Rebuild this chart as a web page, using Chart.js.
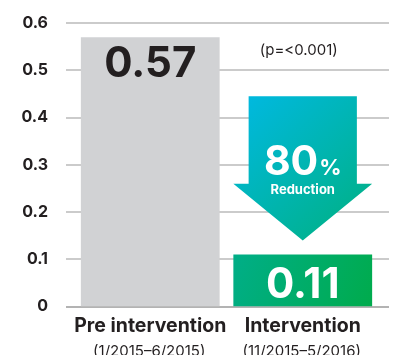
<!DOCTYPE html>
<html>
<head>
<meta charset="utf-8">
<script src="https://cdn.jsdelivr.net/npm/chart.js@4/dist/chart.umd.min.js"></script>
<style>
  html, body { margin: 0; padding: 0; background: #fff; }
  #wrap { width: 393px; height: 355px; }
</style>
</head>
<body>
<div id="wrap"><canvas id="chart" width="393" height="355"></canvas></div>
<script>
// Datos del gráfico
const categories = ['Pre intervention', 'Intervention'];
const periods = ['(1/2015\u20136/2015)', '(11/2015\u20135/2016)'];
const values = [0.57, 0.11];
const valueLabels = ['0.57', '0.11'];
const yTicks = [0, 0.1, 0.2, 0.3, 0.4, 0.5, 0.6];
const pValueText = '(p=<0.001)';
const reductionPct = '80';
const reductionText = 'Reduction';
// Flecha (en unidades del eje y)
const arrowTop = 0.445;
const arrowNeck = 0.26;
const arrowTip = 0.14;

const FONT = 'Inter, "DejaVu Sans", sans-serif';
const INK = '#231f20';

// Colores de barras
function barColor(ctx) {
    const chart = ctx.chart;
    if (ctx.dataIndex === 0) return '#d1d2d4';
    const { chartArea, scales } = chart;
    if (!chartArea) return '#00ae6e';
    const cx = scales.x.getPixelForValue(1);
    const top = scales.y.getPixelForValue(values[1]);
    const bottom = scales.y.getPixelForValue(0);
    const g = chart.ctx.createLinearGradient(cx - 70, top, cx + 70, bottom);
    g.addColorStop(0, '#00ae88');
    g.addColorStop(1, '#00ab4c');
    return g;
}

// Líneas de cuadrícula extendidas
const gridPlugin = {
    id: 'gridLines',
    beforeDatasetsDraw(chart) {
        const { ctx, chartArea, scales } = chart;
        ctx.save();
        yTicks.forEach(v => {
            const y = Math.round(scales.y.getPixelForValue(v));
            ctx.strokeStyle = v === 0 ? '#b3b3b3' : '#cbcbcb';
            ctx.lineWidth = 2;
            ctx.beginPath();
            ctx.moveTo(chartArea.left - 8, y);
            ctx.lineTo(chartArea.right + 10, y);
            ctx.stroke();
        });
        ctx.restore();
    }
};

// Anotaciones: valores, flecha, p-valor, periodos
const annotPlugin = {
    id: 'annotations',
    afterDatasetsDraw(chart) {
        const { ctx, scales } = chart;
        const meta = chart.getDatasetMeta(0);
        const b1 = meta.data[0];
        const b2 = meta.data[1];
        ctx.save();
        ctx.textAlign = 'center';
        ctx.textBaseline = 'alphabetic';

        // Valor barra 1
        ctx.fillStyle = INK;
        ctx.font = 'bold 42px ' + FONT;
        ctx.fillText(valueLabels[0], b1.x, b1.y + 40);

        // Valor barra 2
        ctx.fillStyle = '#fff';
        ctx.fillText(valueLabels[1], b2.x, b2.y + 43);

        // p-valor
        ctx.fillStyle = INK;
        ctx.font = '15px ' + FONT;
        ctx.fillText(pValueText, b2.x - 4, scales.y.getPixelForValue(0.533));

        // Flecha
        const cx = b2.x;
        const headHalf = b2.width / 2;
        const shaftHalf = b2.width * 0.39;
        const yTop = scales.y.getPixelForValue(arrowTop);
        const yNeck = scales.y.getPixelForValue(arrowNeck);
        const yTip = scales.y.getPixelForValue(arrowTip);
        const g = ctx.createLinearGradient(cx - headHalf, yTop, cx + headHalf, yTip);
        g.addColorStop(0, '#00b9e4');
        g.addColorStop(1, '#00b07e');
        ctx.fillStyle = g;
        ctx.beginPath();
        ctx.moveTo(cx - shaftHalf, yTop);
        ctx.lineTo(cx + shaftHalf, yTop);
        ctx.lineTo(cx + shaftHalf, yNeck);
        ctx.lineTo(cx + headHalf, yNeck);
        ctx.lineTo(cx, yTip);
        ctx.lineTo(cx - headHalf, yNeck);
        ctx.lineTo(cx - shaftHalf, yNeck);
        ctx.closePath();
        ctx.fill();

        // Texto de la flecha
        ctx.fillStyle = '#fff';
        ctx.textAlign = 'left';
        ctx.font = 'bold 41px ' + FONT;
        const wNum = ctx.measureText(reductionPct).width;
        ctx.font = 'bold 22px ' + FONT;
        const wPct = ctx.measureText('%').width;
        const x0 = cx - (wNum + 1 + wPct) / 2;
        ctx.font = 'bold 41px ' + FONT;
        ctx.fillText(reductionPct, x0, yNeck - 9);
        ctx.font = 'bold 22px ' + FONT;
        ctx.fillText('%', x0 + wNum + 1, yNeck - 9);
        ctx.textAlign = 'center';
        ctx.font = 'bold 13px ' + FONT;
        ctx.fillText(reductionText, cx, yNeck + 10);

        // Periodos bajo las categorías
        ctx.fillStyle = INK;
        ctx.font = '15px ' + FONT;
        periods.forEach((p, i) => {
            ctx.fillText(p, scales.x.getPixelForTick(i) - 1, 356);
        });
        ctx.restore();
    }
};

new Chart(document.getElementById('chart'), {
    type: 'bar',
    data: {
        labels: categories,
        datasets: [{
            data: values,
            backgroundColor: barColor,
            borderWidth: 0,
            barPercentage: 0.91,
            categoryPercentage: 1
        }]
    },
    options: {
        responsive: false,
        animation: false,
        layout: { padding: { top: 23, right: 14, bottom: 9, left: 0 } },
        plugins: { legend: { display: false }, tooltip: { enabled: false } },
        scales: {
            x: {
                grid: { display: false, drawTicks: false },
                border: { display: false },
                ticks: {
                    color: INK,
                    padding: 8,
                    maxRotation: 0,
                    minRotation: 0,
                    autoSkip: false,
                    font: { family: FONT, size: 19.5, weight: 'bold' }
                }
            },
            y: {
                min: 0,
                max: 0.6,
                afterFit(scale) {
                    // Ancho fijo del eje y sin relleno extra
                    scale.width = 74;
                    scale.paddingTop = 0;
                    scale.paddingBottom = 0;
                },
                afterBuildTicks(scale) { scale.ticks = yTicks.map(v => ({ value: v })); },
                grid: { display: false, drawTicks: false },
                border: { display: false },
                ticks: {
                    color: INK,
                    padding: 26,
                    font: { family: FONT, size: 16, weight: 'bold' },
                    callback: v => v === 0 ? '0' : v.toFixed(1)
                }
            }
        }
    },
    plugins: [gridPlugin, annotPlugin]
});
</script>
</body>
</html>
